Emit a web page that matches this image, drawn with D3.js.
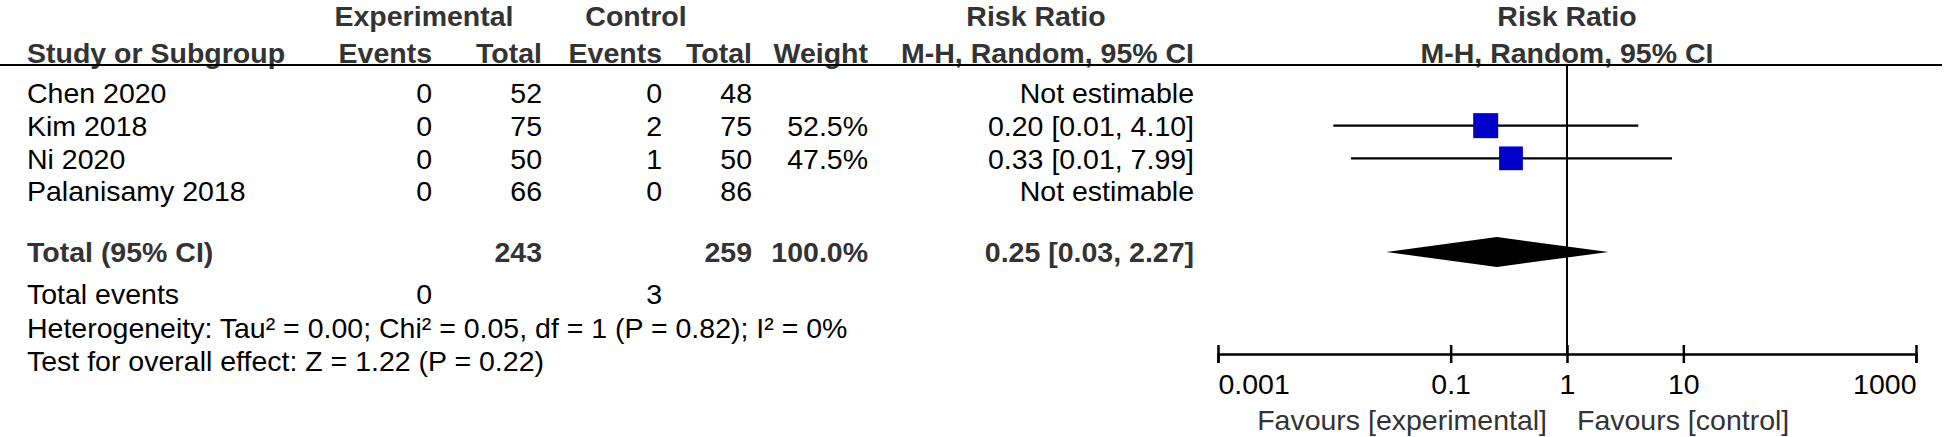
<!DOCTYPE html>
<html>
<head>
<meta charset="utf-8">
<script src="https://cdn.jsdelivr.net/npm/d3@7"></script>
<style>
  body { margin: 0; background: #fff; }
  text { font-family: Arial, "Liberation Sans", sans-serif; font-size: 28.5px; fill: #000; }
  .hd { font-weight: bold; fill: #333; }
  .tot { font-weight: bold; fill: #333; }
  .fav { fill: #333; }
</style>
</head>
<body>
<svg id="chart"></svg>
<script>
// study rows
const studies = ["Chen 2020", "Kim 2018", "Ni 2020", "Palanisamy 2018"];
const expEvents = [0, 0, 0, 0];
const expTotal = [52, 75, 50, 66];
const ctrlEvents = [0, 2, 1, 0];
const ctrlTotal = [48, 75, 50, 86];
const weights = [null, 52.5, 47.5, null];
const rrText = ["Not estimable", "0.20 [0.01, 4.10]", "0.33 [0.01, 7.99]", "Not estimable"];
const rr = [null, 0.20, 0.33, null];
const rrLow = [null, 0.0098, 0.0139, null];
const rrHigh = [null, 4.10, 7.99, null];

// pooled
const totalExp = 243, totalCtrl = 259, totalWeight = "100.0%";
const totalRR = 0.25, totalLow = 0.028, totalHigh = 2.27;
const totalRRText = "0.25 [0.03, 2.27]";
const totalEventsExp = 0, totalEventsCtrl = 3;
const heterogeneity = "Heterogeneity: Tau² = 0.00; Chi² = 0.05, df = 1 (P = 0.82); I² = 0%";
const overallEffect = "Test for overall effect: Z = 1.22 (P = 0.22)";

const axisTicks = [0.001, 0.1, 1, 10, 1000];
const favours = ["Favours [experimental]", "Favours [control]"];

const width = 1946, height = 437;
const svg = d3.select("#chart").attr("width", width).attr("height", height);

// column positions (right edges for numbers)
const col = {
  study: 27, expEv: 432, expTot: 542, ctrlEv: 662, ctrlTot: 752, weight: 868, rr: 1194
};
const yRow = d3.scalePoint().domain(studies).range([93, 191]);
const yHead1 = 16, yHead2 = 53, yLine = 65;
const yTotal = 252, yEvents = 294, yHet = 328, yTest = 361;

function txt(x, y, s, anchor, cls) {
  return svg.append("text")
    .attr("x", x).attr("y", y).attr("dy", "0.36em")
    .attr("text-anchor", anchor || "start")
    .attr("class", cls || null)
    .text(s);
}

// forest plot scale
const x = d3.scaleLog().domain([0.001, 1000]).range([1218, 1916]);
const yAxis = 354;

// headers
txt(424, yHead1, "Experimental", "middle", "hd");
txt(636, yHead1, "Control", "middle", "hd");
txt(1036, yHead1, "Risk Ratio", "middle", "hd");
txt(x(1), yHead1, "Risk Ratio", "middle", "hd");
txt(col.study, yHead2, "Study or Subgroup", "start", "hd");
txt(col.expEv, yHead2, "Events", "end", "hd");
txt(col.expTot, yHead2, "Total", "end", "hd");
txt(col.ctrlEv, yHead2, "Events", "end", "hd");
txt(col.ctrlTot, yHead2, "Total", "end", "hd");
txt(col.weight, yHead2, "Weight", "end", "hd");
txt(col.rr, yHead2, "M-H, Random, 95% CI", "end", "hd");
txt(x(1), yHead2, "M-H, Random, 95% CI", "middle", "hd");

svg.append("line")
  .attr("x1", 0).attr("x2", 1942).attr("y1", yLine).attr("y2", yLine)
  .attr("stroke", "#000").attr("stroke-width", 2);

// study rows
studies.forEach((s, i) => {
  const y = yRow(s);
  txt(col.study, y, s);
  txt(col.expEv, y, expEvents[i], "end");
  txt(col.expTot, y, expTotal[i], "end");
  txt(col.ctrlEv, y, ctrlEvents[i], "end");
  txt(col.ctrlTot, y, ctrlTotal[i], "end");
  if (weights[i] != null) txt(col.weight, y, weights[i].toFixed(1) + "%", "end");
  txt(col.rr, y, rrText[i], "end");
});

// totals
txt(col.study, yTotal, "Total (95% CI)", "start", "tot");
txt(col.expTot, yTotal, totalExp, "end", "tot");
txt(col.ctrlTot, yTotal, totalCtrl, "end", "tot");
txt(col.weight, yTotal, totalWeight, "end", "tot");
txt(col.rr, yTotal, totalRRText, "end", "tot");
txt(col.study, yEvents, "Total events");
txt(col.expEv, yEvents, totalEventsExp, "end");
txt(col.ctrlEv, yEvents, totalEventsCtrl, "end");
txt(col.study, yHet, heterogeneity);
txt(col.study, yTest, overallEffect);

// line of no effect
svg.append("line")
  .attr("x1", x(1)).attr("x2", x(1)).attr("y1", yLine).attr("y2", yAxis)
  .attr("stroke", "#000").attr("stroke-width", 2);

const est = studies.map((s, i) => ({ s, rr: rr[i], lo: rrLow[i], hi: rrHigh[i], w: weights[i] }))
  .filter(d => d.rr != null);

svg.selectAll(".ci").data(est).join("line")
  .attr("class", "ci")
  .attr("x1", d => x(d.lo)).attr("x2", d => x(d.hi))
  .attr("y1", d => yRow(d.s)).attr("y2", d => yRow(d.s))
  .attr("stroke", "#000").attr("stroke-width", 2.2);

const boxSize = w => Math.sqrt(w) * 3.45;
svg.selectAll(".box").data(est).join("rect")
  .attr("class", "box")
  .attr("x", d => x(d.rr) - boxSize(d.w) / 2)
  .attr("y", d => yRow(d.s) - boxSize(d.w) / 2)
  .attr("width", d => boxSize(d.w))
  .attr("height", d => boxSize(d.w))
  .attr("fill", "#0000c8");

// pooled diamond
const dh = 15;
svg.append("path")
  .attr("d", `M${x(totalLow)},${yTotal} L${x(totalRR)},${yTotal - dh} L${x(totalHigh)},${yTotal} L${x(totalRR)},${yTotal + dh} Z`)
  .attr("fill", "#000");

const axis = d3.axisBottom(x)
  .tickValues(axisTicks)
  .tickFormat(d => String(d))
  .tickSizeOuter(0)
  .tickSize(9)
  .tickPadding(11);

const g = svg.append("g")
  .attr("transform", `translate(0,${yAxis})`)
  .call(axis);
g.attr("font-size", null).attr("font-family", null);
g.select(".domain").attr("stroke", "#000").attr("stroke-width", 2.5);
g.selectAll(".tick line").attr("y1", -9).attr("y2", 9).attr("stroke", "#000").attr("stroke-width", 2.5);
g.selectAll(".tick text")
  .attr("fill", "#000")
  .attr("text-anchor", (d, i) => i === 0 ? "start" : i === axisTicks.length - 1 ? "end" : "middle");

txt(x(1) - 20, 420, favours[0], "end", "fav");
txt(x(1) + 10, 420, favours[1], "start", "fav");
</script>
</body>
</html>
